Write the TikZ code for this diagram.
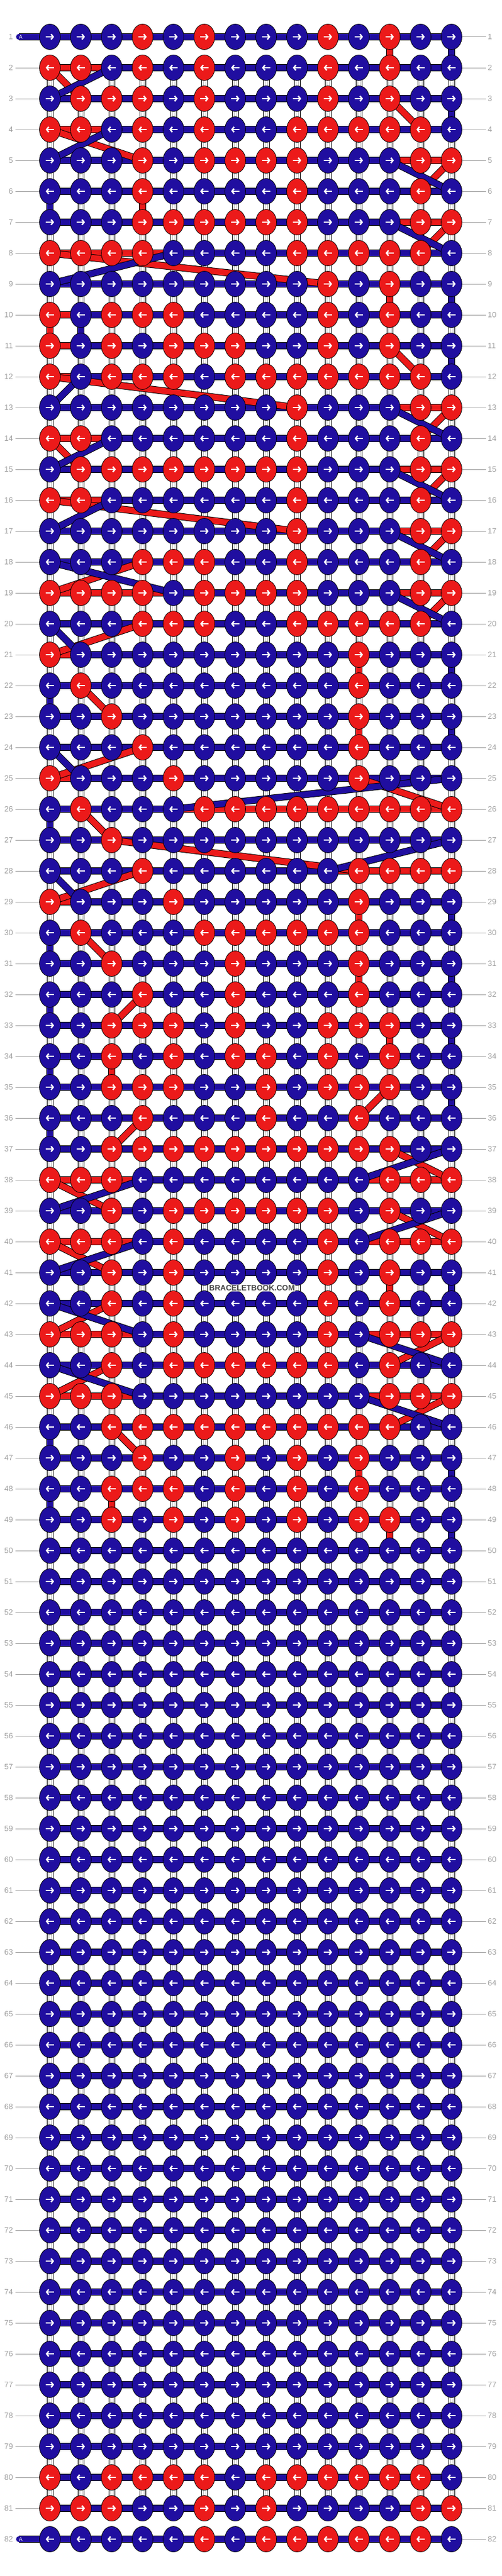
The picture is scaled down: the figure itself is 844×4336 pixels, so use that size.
\documentclass[tikz,border=0pt]{standalone}
\usepackage{fontspec}
\setmainfont{Liberation Sans}
\usetikzlibrary{shapes.geometric}
\usetikzlibrary{arrows.meta}
\definecolor{knotB}{RGB}{32,14,160}
\definecolor{knotR}{RGB}{236,26,26}
\definecolor{numgray}{RGB}{160,160,160}
\definecolor{wmgray}{RGB}{70,70,70}
\pgfdeclarelayer{warp}
\pgfdeclarelayer{thread}
\pgfsetlayers{warp,thread,main}
\tikzset{
  knot/.style={ellipse, draw=black, line width=0.8pt, inner sep=0pt, minimum width=35pt, minimum height=43pt},
  dirarrow/.style={white, line width=2.4pt, -{Straight Barb[length=3.5pt,width=9pt]}},
  thrB/.style={draw=knotB, line width=10pt, preaction={draw=black, line width=12pt}},
  thrR/.style={draw=knotR, line width=10pt, preaction={draw=black, line width=12pt}},
  warp/.style={draw=black, line width=11pt, line cap=round, postaction={draw=white, line width=9pt}, postaction={draw=black!25, line width=5pt}, postaction={draw=white, line width=3pt}},
  numlbl/.style={text=numgray, font=\fontsize{13}{13}\selectfont, inner sep=0pt},
  numline/.style={draw=numgray, line width=1pt},
  tabtxt/.style={text=white, font=\fontsize{9}{9}\selectfont, inner sep=0pt},
  wmark/.style={text=wmgray, font=\bfseries\fontsize{13}{13}\selectfont, fill=white, fill opacity=0.7, text opacity=1, inner sep=1.5pt}
}
\begin{document}
\begin{tikzpicture}[x=1pt,y=1pt,yscale=-1]
\useasboundingbox (0,0) rectangle (844,4336);
% knots, row by row
\foreach \r/\pat in {
 1/{B,B,B,R,B,R,B,B,B,R,B,R,B,B}, 2/{R,R,B,R,B,R,B,B,B,R,B,R,B,B},
 3/{B,R,R,R,B,R,B,B,B,R,B,R,B,B}, 4/{R,R,B,R,B,R,B,B,R,R,R,R,R,B},
 5/{B,B,B,R,B,R,R,R,R,B,B,B,R,R}, 6/{B,B,B,R,B,B,B,B,R,B,B,B,R,B},
 7/{B,B,B,R,R,R,R,R,R,B,B,B,R,R}, 8/{R,R,R,R,B,B,B,B,R,R,R,R,R,B},
 9/{B,B,B,B,B,B,B,B,B,R,B,R,B,B}, 10/{R,B,R,R,R,B,B,B,B,R,B,R,B,B},
 11/{R,B,R,B,R,R,R,B,B,R,B,R,B,B}, 12/{R,B,R,R,R,B,R,R,R,R,R,R,R,B},
 13/{B,B,B,B,B,B,B,B,R,B,B,B,R,R}, 14/{R,R,B,B,B,B,B,B,R,B,B,B,R,B},
 15/{B,R,R,R,R,R,R,R,R,B,B,B,R,R}, 16/{R,R,B,B,B,B,B,B,R,B,B,B,R,B},
 17/{B,B,B,B,B,B,B,B,R,B,B,B,R,R}, 18/{B,B,B,R,R,R,B,B,R,B,B,B,R,B},
 19/{R,R,R,R,B,R,R,R,R,B,B,B,R,R}, 20/{B,B,B,R,R,R,B,B,R,R,R,R,R,B},
 21/{R,B,B,B,B,B,B,B,B,B,R,B,B,B}, 22/{B,R,B,B,B,B,B,B,B,B,R,B,B,B},
 23/{B,B,R,B,B,B,B,B,B,B,R,B,B,B}, 24/{B,B,B,R,B,B,B,B,B,B,R,B,B,B},
 25/{R,B,B,B,R,B,B,B,B,B,R,B,B,B}, 26/{B,R,B,B,B,R,R,R,R,R,R,R,R,R},
 27/{B,B,R,B,B,B,B,B,B,B,B,B,B,B}, 28/{B,B,B,R,B,B,B,B,B,B,R,R,R,R},
 29/{R,B,B,B,R,B,B,B,B,B,R,B,B,B}, 30/{B,R,B,B,B,R,R,R,R,R,R,B,B,B},
 31/{B,B,R,B,B,B,R,B,B,B,R,B,B,B}, 32/{B,B,B,R,B,B,R,B,B,B,R,B,B,B},
 33/{B,B,R,R,R,B,R,B,B,R,R,R,B,B}, 34/{B,B,R,B,R,B,R,R,B,R,B,R,B,B},
 35/{B,B,R,R,R,B,B,R,B,R,R,R,B,B}, 36/{B,B,B,R,B,B,B,R,B,B,R,B,B,B},
 37/{B,B,R,R,R,R,R,R,R,R,R,R,B,B}, 38/{R,R,R,B,B,B,B,B,B,B,B,R,R,R},
 39/{B,B,R,B,R,R,R,R,R,R,B,R,B,B}, 40/{R,R,R,B,R,B,B,B,B,R,B,R,R,R},
 41/{B,B,R,B,R,B,B,B,B,R,B,R,B,B}, 42/{B,B,R,B,R,B,B,B,B,R,B,R,B,B},
 43/{R,R,R,B,R,B,B,B,B,R,B,R,R,R}, 44/{B,B,R,B,R,R,R,R,R,R,B,R,B,B},
 45/{R,R,R,B,B,B,B,B,B,B,B,R,R,R}, 46/{B,B,R,R,R,R,R,R,R,R,R,R,B,B},
 47/{B,B,B,R,B,B,R,B,R,B,R,B,B,B}, 48/{B,B,R,R,R,B,R,B,R,B,R,B,B,B},
 49/{B,B,R,B,R,B,R,B,R,B,R,R,B,B}, 50/{B,B,B,B,B,B,B,B,B,B,B,B,B,B},
 51/{B,B,B,B,B,B,B,B,B,B,B,B,B,B}, 52/{B,B,B,B,B,B,B,B,B,B,B,B,B,B},
 53/{B,B,B,B,B,B,B,B,B,B,B,B,B,B}, 54/{B,B,B,B,B,B,B,B,B,B,B,B,B,B},
 55/{B,B,B,B,B,B,B,B,B,B,B,B,B,B}, 56/{B,B,B,B,B,B,B,B,B,B,B,B,B,B},
 57/{B,B,B,B,B,B,B,B,B,B,B,B,B,B}, 58/{B,B,B,B,B,B,B,B,B,B,B,B,B,B},
 59/{B,B,B,B,B,B,B,B,B,B,B,B,B,B}, 60/{B,B,B,B,B,B,B,B,B,B,B,B,B,B},
 61/{B,B,B,B,B,B,B,B,B,B,B,B,B,B}, 62/{B,B,B,B,B,B,B,B,B,B,B,B,B,B},
 63/{B,B,B,B,B,B,B,B,B,B,B,B,B,B}, 64/{B,B,B,B,B,B,B,B,B,B,B,B,B,B},
 65/{B,B,B,B,B,B,B,B,B,B,B,B,B,B}, 66/{B,B,B,B,B,B,B,B,B,B,B,B,B,B},
 67/{B,B,B,B,B,B,B,B,B,B,B,B,B,B}, 68/{B,B,B,B,B,B,B,B,B,B,B,B,B,B},
 69/{B,B,B,B,B,B,B,B,B,B,B,B,B,B}, 70/{B,B,B,B,B,B,B,B,B,B,B,B,B,B},
 71/{B,B,B,B,B,B,B,B,B,B,B,B,B,B}, 72/{B,B,B,B,B,B,B,B,B,B,B,B,B,B},
 73/{B,B,B,B,B,B,B,B,B,B,B,B,B,B}, 74/{B,B,B,B,B,B,B,B,B,B,B,B,B,B},
 75/{B,B,B,B,B,B,B,B,B,B,B,B,B,B}, 76/{B,B,B,B,B,B,B,B,B,B,B,B,B,B},
 77/{B,B,B,B,B,B,B,B,B,B,B,B,B,B}, 78/{B,B,B,B,B,B,B,B,B,B,B,B,B,B},
 79/{B,B,B,B,B,B,B,B,B,B,B,B,B,B}, 80/{R,B,R,R,R,R,B,R,R,R,R,R,R,B},
 81/{R,R,R,B,B,R,B,R,B,B,B,B,R,R}, 82/{B,B,B,B,B,R,B,R,R,R,R,R,R,B}}{
  \pgfmathtruncatemacro\kdir{ifthenelse(mod(\r,2)==1,1,-1)}
  \foreach \k [count=\c] in \pat {
    \node[knot, fill=knot\k] (k\r-\c) at ({84+52*(\c-1)},{62+52*(\r-1)}) {};
    \draw[dirarrow] ([xshift={-7*\kdir}]k\r-\c.center) -- ([xshift={7*\kdir}]k\r-\c.center);
  }
  \node[numlbl, anchor=east] (ln\r) at (22,{62+52*(\r-1)}) {\r};
  \node[numlbl, anchor=west] (rn\r) at (821,{62+52*(\r-1)}) {\r};
  \draw[numline] (k\r-14.east) -- ([xshift=-3pt]rn\r.west);
  \ifnum\r>1 \ifnum\r<82 \draw[numline] ([xshift=4pt]ln\r.east) -- (k\r-1.west); \fi\fi
}
% start tabs
\coordinate (tab1) at (32,62);
\coordinate (tab82) at (32,4274);
\node[tabtxt] (a1) at (35,62) {A};
\node[tabtxt] (a82) at (35,4274) {A};
\node[wmark] (wm) at (424,2168) {BRACELETBOOK.COM};
% base strings
\begin{pgfonlayer}{warp}
\fill[white] (0,0) rectangle (844,4336);
\foreach \c in {1,...,14}
  \draw[warp] ([yshift=57pt]k1-\c.center) -- ([yshift=-57pt]k82-\c.center);
\end{pgfonlayer}
% knotting threads
\begin{pgfonlayer}{thread}
\foreach \r in {1,...,82}
  \draw[thrB] (k\r-1.center) -- (k\r-14.center);
\foreach \r/\a/\b in {2/1/3, 4/1/3, 5/12/14, 7/12/14, 8/1/5, 10/1/2, 11/1/2, 12/1/2,
  13/12/14, 14/1/3, 15/12/14, 16/1/3, 17/12/14, 19/1/5, 19/12/14, 21/1/2, 25/1/2,
  26/5/14, 28/10/14, 29/1/2, 38/1/4, 38/11/14, 40/1/4, 40/11/14, 43/1/4, 43/11/14,
  45/1/4, 45/11/14}
  \draw[thrR] (k\r-\a.center) -- (k\r-\b.center);
\foreach \r/\a/\b in {1/12/12, 2/1/2, 3/12/13, 4/1/4, 5/14/13, 6/4/4, 7/14/13, 8/1/10,
  9/12/12, 10/1/1, 11/12/13, 12/1/9, 13/14/13, 14/1/2, 15/14/13, 16/1/9, 17/14/13,
  18/4/1, 19/14/13, 20/4/1, 21/11/11, 22/2/3, 23/11/11, 24/4/1, 25/11/14, 26/2/3,
  27/3/11, 28/4/1, 29/11/11, 30/2/3, 31/11/11, 32/4/3, 33/12/12, 34/3/3, 35/12/11,
  36/4/3, 37/12/14, 38/1/3, 39/12/14, 40/1/3, 41/12/12, 42/3/1, 43/14/12, 44/3/1,
  45/14/12, 46/3/4, 47/11/11, 48/3/3, 49/12/12}{
  \pgfmathtruncatemacro\n{\r+1}
  \draw[thrR] (k\r-\a.center) -- (k\n-\b.center);
}
\foreach \r/\a/\b in {1/14/14, 2/3/1, 3/14/14, 4/3/1, 5/12/14, 6/1/1, 7/12/14, 8/5/1,
  9/14/14, 10/2/2, 11/14/14, 12/2/1, 13/12/14, 14/3/1, 15/12/14, 16/3/1, 17/12/14,
  18/1/5, 19/12/14, 20/1/2, 21/14/14, 22/1/1, 23/14/14, 24/1/2, 25/14/5, 26/1/1,
  27/14/10, 28/1/2, 29/14/14, 30/1/1, 31/14/14, 32/1/1, 33/14/14, 34/1/1, 35/14/14,
  36/1/1, 37/14/11, 38/4/1, 39/14/11, 40/4/1, 41/14/14, 42/1/4, 43/11/14, 44/1/4,
  45/11/14, 46/1/1, 47/14/14, 48/1/1, 49/14/14}{
  \pgfmathtruncatemacro\n{\r+1}
  \draw[thrB] (k\r-\a.center) -- (k\n-\b.center);
}
\draw[line cap=round, thrB] (tab1) -- (k1-1.center);
\draw[line cap=round, thrB] (tab82) -- (k82-1.center);
\end{pgfonlayer}
\end{tikzpicture}
\end{document}
